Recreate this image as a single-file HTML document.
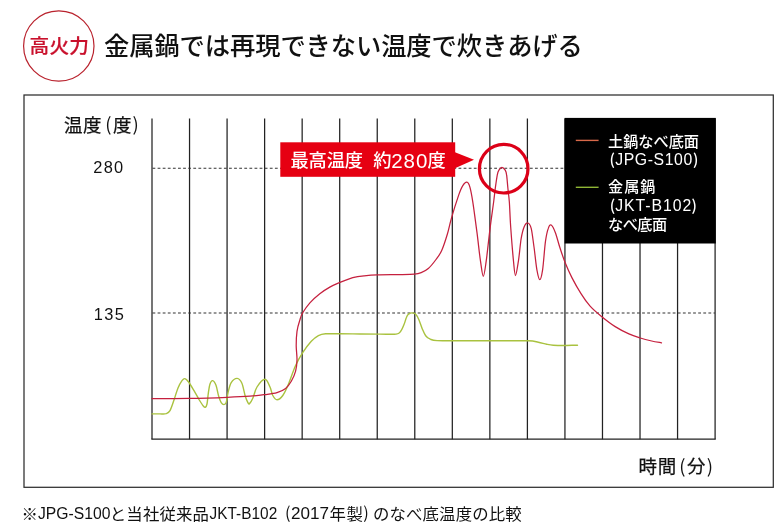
<!DOCTYPE html>
<html lang="ja">
<head>
<meta charset="utf-8">
<title>高火力</title>
<style>
html,body{margin:0;padding:0;background:#fff;}
body{width:780px;height:526px;overflow:hidden;position:relative;font-family:"Liberation Sans","Noto Sans CJK JP",sans-serif;}
svg{position:absolute;left:0;top:0;display:block;}
text{font-family:"Liberation Sans","Noto Sans CJK JP",sans-serif;}
.jp{font-family:"Noto Sans CJK JP","Liberation Sans",sans-serif;}
</style>
</head>
<body>
<svg width="780" height="526" viewBox="0 0 780 526">
<rect x="0" y="0" width="780" height="526" fill="#fff"/>
<!-- badge -->
<circle cx="58.8" cy="46" r="35.2" fill="#fff" stroke="#b9222d" stroke-width="1.2"/>
<text class="jp" x="29.6" y="53.1" font-size="19.7" font-weight="500" fill="#c9102c" stroke="#c9102c" stroke-width="0.2" textLength="59.4" lengthAdjust="spacing">高火力</text>
<!-- title -->
<text class="jp" x="104" y="54.9" font-size="25.3" font-weight="500" fill="#111" letter-spacing="-0.1">金属鍋では再現できない温度で炊きあげる</text>
<!-- frame -->
<rect x="24" y="95" width="749.3" height="392.3" fill="#fff" stroke="#2e2e2e" stroke-width="1.25"/>
<!-- grid -->
<g stroke="#222" stroke-width="1.25" fill="none">
<line x1="152.00" y1="118.4" x2="152.00" y2="439.2"/><line x1="189.54" y1="118.4" x2="189.54" y2="439.2"/><line x1="227.08" y1="118.4" x2="227.08" y2="439.2"/><line x1="264.62" y1="118.4" x2="264.62" y2="439.2"/><line x1="302.16" y1="118.4" x2="302.16" y2="439.2"/><line x1="339.70" y1="118.4" x2="339.70" y2="439.2"/><line x1="377.24" y1="118.4" x2="377.24" y2="439.2"/><line x1="414.78" y1="118.4" x2="414.78" y2="439.2"/><line x1="452.32" y1="118.4" x2="452.32" y2="439.2"/><line x1="489.86" y1="118.4" x2="489.86" y2="439.2"/><line x1="527.40" y1="118.4" x2="527.40" y2="439.2"/><line x1="564.94" y1="118.4" x2="564.94" y2="439.2"/><line x1="602.48" y1="118.4" x2="602.48" y2="439.2"/><line x1="640.02" y1="118.4" x2="640.02" y2="439.2"/><line x1="677.56" y1="118.4" x2="677.56" y2="439.2"/><line x1="715.10" y1="118.4" x2="715.10" y2="439.2"/>
<line x1="151.4" y1="439.2" x2="715.7" y2="439.2"/>
</g>
<g stroke="#333" stroke-width="1.15" stroke-dasharray="2.8 2.3" fill="none">
<line x1="152.5" y1="168.2" x2="565" y2="168.2"/>
<line x1="152.5" y1="313" x2="715" y2="313"/>
</g>
<!-- curves -->
<path d="M152.0 413.9C153.3 413.9 157.7 413.9 160.0 413.9C162.3 413.9 164.3 414.2 166.0 413.7C167.7 413.1 168.7 412.9 170.0 410.6C171.3 408.3 172.7 403.8 174.0 400.0C175.3 396.2 176.7 391.2 178.0 388.0C179.3 384.8 180.8 382.2 182.0 380.6C183.2 379.0 183.8 378.4 184.9 378.6C186.0 378.8 187.1 380.0 188.6 382.0C190.1 384.0 192.2 387.6 194.0 390.6C195.8 393.6 197.8 397.4 199.3 400.0C200.9 402.6 202.3 404.8 203.3 406.0C204.3 407.2 204.7 407.6 205.3 407.3C205.9 407.0 206.5 406.3 207.0 404.0C207.5 401.7 207.8 396.6 208.3 393.3C208.8 390.0 209.3 386.1 210.0 384.0C210.7 381.9 211.6 380.4 212.6 380.6C213.6 380.8 215.0 382.7 216.0 385.3C217.0 387.9 217.7 393.1 218.6 396.0C219.5 398.9 220.3 401.2 221.2 402.6C222.1 404.0 223.1 404.6 223.9 404.6C224.7 404.6 225.5 404.5 226.2 402.6C226.9 400.7 227.1 396.6 227.9 393.3C228.7 390.0 229.6 385.1 231.2 382.6C232.8 380.1 235.4 378.3 237.2 378.4C239.0 378.5 240.6 380.4 241.9 383.3C243.2 386.2 244.2 392.8 245.2 396.0C246.2 399.2 247.2 401.3 247.9 402.6C248.6 403.9 248.7 404.3 249.5 403.6C250.3 402.9 251.6 401.1 252.8 398.3C254.1 395.5 255.0 390.2 257.0 387.0C259.0 383.8 262.8 379.2 265.0 379.2C267.2 379.2 268.7 384.3 270.0 387.0C271.3 389.7 271.6 393.4 272.8 395.5C274.0 397.6 275.3 399.8 277.0 399.8C278.7 399.8 280.9 398.1 282.8 395.5C284.7 392.9 286.4 389.0 288.5 384.0C290.6 379.0 293.2 370.7 295.6 365.5C298.0 360.3 300.1 356.7 302.7 352.7C305.3 348.7 308.7 344.1 311.3 341.3C313.9 338.5 316.0 336.9 318.4 335.6C320.8 334.4 321.9 334.1 325.5 333.8C329.1 333.5 334.1 333.8 339.8 333.8C345.6 333.8 353.3 333.9 360.0 334.0C366.7 334.1 374.0 334.1 380.0 334.1C386.0 334.1 392.7 334.6 396.1 334.1C399.6 333.6 399.4 332.8 400.7 331.2C402.0 329.6 403.2 326.6 404.1 324.3C405.1 322.0 405.6 319.2 406.4 317.5C407.1 315.8 407.7 314.9 408.6 314.1C409.6 313.3 411.0 312.9 412.1 312.9C413.2 312.9 414.4 313.0 415.5 314.1C416.6 315.2 417.8 317.3 418.9 319.8C420.0 322.3 421.2 326.2 422.3 328.9C423.4 331.5 424.4 334.0 425.7 335.7C427.0 337.4 428.4 338.4 430.3 339.2C432.2 340.0 432.2 340.3 437.1 340.6C442.1 340.9 449.5 340.8 460.0 340.8C470.5 340.8 488.6 340.8 500.0 340.8C511.4 340.8 521.9 340.6 528.3 340.8C534.7 341.0 535.2 341.6 538.3 342.2C541.4 342.8 544.2 343.7 546.7 344.2C549.2 344.7 550.5 345.0 553.3 345.2C556.1 345.4 559.3 345.5 563.3 345.5C567.3 345.5 575.1 345.2 577.5 345.2" fill="none" stroke="#a9c23f" stroke-width="1.4" stroke-linecap="round" stroke-linejoin="round"/>
<path d="M152.0 398.6C158.2 398.6 176.8 398.6 189.3 398.4C201.8 398.2 217.1 397.7 227.2 397.3C237.3 396.9 243.7 396.6 250.0 396.2C256.3 395.8 260.5 395.2 265.0 394.6C269.5 394.0 273.6 393.6 277.0 392.6C280.4 391.6 283.2 390.3 285.6 388.4C288.0 386.5 289.6 384.1 291.3 381.2C293.0 378.3 294.7 374.8 295.6 371.2C296.6 367.6 296.9 364.1 297.0 359.8C297.1 355.5 296.2 350.4 296.2 345.6C296.2 340.9 296.4 335.6 297.0 331.3C297.6 327.0 298.9 323.0 299.9 319.9C300.8 316.8 301.0 315.6 302.7 312.8C304.4 310.0 307.0 306.0 309.9 302.8C312.8 299.6 316.5 296.3 319.8 293.7C323.1 291.1 326.5 289.0 329.8 287.1C333.1 285.2 335.8 284.2 339.6 282.6C343.4 281.0 348.7 278.7 352.8 277.6C356.9 276.5 360.1 276.2 364.2 275.8C368.3 275.4 371.5 275.1 377.2 274.9C382.9 274.7 392.2 274.7 398.4 274.6C404.6 274.5 410.5 274.5 414.3 274.2C418.1 273.9 418.9 273.6 421.2 272.6C423.5 271.7 425.8 270.7 428.3 268.5C430.8 266.3 433.8 262.5 436.0 259.5C438.2 256.5 439.8 254.8 441.7 250.5C443.6 246.2 445.8 239.3 447.4 234.0C449.0 228.7 449.5 224.8 451.4 218.4C453.2 212.0 456.6 201.1 458.5 195.6C460.4 190.1 461.4 187.8 462.8 185.6C464.2 183.4 465.8 181.9 467.0 182.2C468.2 182.4 468.9 183.9 469.9 187.1C470.8 190.3 471.5 193.7 472.7 201.3C473.9 208.9 475.7 222.7 477.0 232.7C478.3 242.7 479.4 253.9 480.5 261.2C481.6 268.5 482.4 276.3 483.3 276.3C484.2 276.3 485.1 268.9 486.2 261.2C487.3 253.4 488.6 239.8 489.9 229.8C491.1 219.9 492.8 208.4 493.7 201.5C494.6 194.6 494.7 192.6 495.3 188.2C495.9 183.8 496.7 177.9 497.3 174.9C497.9 171.9 498.1 171.5 498.9 170.2C499.7 168.9 500.8 167.3 501.9 167.3C502.9 167.3 504.4 168.9 505.2 170.2C506.0 171.5 506.2 171.9 506.6 174.9C507.1 177.9 507.4 183.8 507.9 188.2C508.3 192.6 508.8 195.0 509.3 201.5C509.8 208.0 510.0 217.1 510.7 227.0C511.4 236.9 512.7 253.1 513.5 261.2C514.3 269.3 514.7 275.5 515.5 275.5C516.3 275.5 517.4 267.4 518.4 261.2C519.4 255.0 520.2 244.1 521.2 238.4C522.2 232.7 523.0 229.6 524.1 227.0C525.2 224.4 526.6 222.8 527.8 223.0C529.0 223.2 530.2 224.4 531.2 228.4C532.2 232.4 533.0 240.1 534.0 247.0C535.0 253.9 535.9 264.4 536.9 269.8C537.9 275.2 538.8 279.7 539.8 279.7C540.8 279.7 541.6 276.2 542.6 269.8C543.6 263.4 544.5 248.1 545.5 241.2C546.5 234.3 547.3 231.1 548.3 228.4C549.2 225.7 550.0 224.3 551.2 225.0C552.4 225.7 554.0 229.0 555.4 232.7C556.8 236.4 558.1 242.0 559.7 247.0C561.3 252.0 563.2 257.7 565.2 262.8C567.2 267.9 569.3 272.5 571.9 277.6C574.5 282.7 578.0 288.9 581.0 293.6C584.0 298.4 586.7 302.3 590.1 306.1C593.5 309.9 597.3 313.0 601.5 316.4C605.7 319.8 610.6 323.7 615.2 326.6C619.8 329.5 624.7 332.0 628.9 333.9C633.1 335.8 636.5 336.8 640.3 338.0C644.1 339.2 648.2 340.2 651.7 341.0C655.2 341.8 659.9 342.5 661.5 342.8" fill="none" stroke="#c5203e" stroke-width="1.25" stroke-linecap="round" stroke-linejoin="round"/>
<!-- legend -->
<rect x="564.6" y="117.9" width="151.2" height="125.6" fill="#000"/>
<line x1="575.8" y1="140.4" x2="598.6" y2="140.4" stroke="#d8694a" stroke-width="1.4"/>
<line x1="575.8" y1="187.3" x2="598.6" y2="187.3" stroke="#8fb535" stroke-width="1.4"/>
<g fill="#fff" font-size="15.2" font-weight="500">
<text class="jp" x="608" y="146.8" textLength="91" lengthAdjust="spacing">土鍋なべ底面</text>
<text class="jp" x="609.4" y="164.6">(</text>
<text x="615.2" y="165.2" font-size="15.8" textLength="77" lengthAdjust="spacing">JPG-S100</text>
<text class="jp" x="693" y="164.6">)</text>
<text class="jp" x="608" y="192.4" textLength="47.5" lengthAdjust="spacing">金属鍋</text>
<text class="jp" x="609.8" y="210.6">(</text>
<text x="615.2" y="211.2" font-size="15.8" textLength="76" lengthAdjust="spacing">JKT-B102</text>
<text class="jp" x="691.6" y="210.6">)</text>
<text class="jp" x="608" y="229.6" textLength="59.2" lengthAdjust="spacing">なべ底面</text>
</g>
<!-- callout -->
<rect x="280.3" y="142.3" width="174.9" height="34.5" fill="#e60012"/>
<polygon points="455,152.2 474,159.7 455,168.2" fill="#e60012"/>
<g fill="#fff" font-weight="500">
<text class="jp" x="290.5" y="166.6" font-size="18.3" textLength="72.6" lengthAdjust="spacing">最高温度</text>
<text class="jp" x="373.2" y="166.6" font-size="18.3">約</text>
<text x="391.3" y="167.6" font-size="20.5" font-weight="400" textLength="36" lengthAdjust="spacing">280</text>
<text class="jp" x="427.6" y="166.6" font-size="18.3">度</text>
</g>
<circle cx="503.7" cy="168.7" r="24.3" fill="none" stroke="#dc0018" stroke-width="3.2"/>
<!-- axis labels -->
<g fill="#111" font-size="18.5" stroke="#111" stroke-width="0.25">
<text class="jp" x="64" y="131.6" textLength="37.6" lengthAdjust="spacing">温度</text>
<text class="jp" stroke="none" x="105.2" y="131.2">(</text>
<text class="jp" x="113.1" y="131.6">度</text>
<text class="jp" stroke="none" x="132.6" y="131.2">)</text>
<text class="jp" x="638.6" y="473.2" textLength="37.6" lengthAdjust="spacing">時間</text>
<text class="jp" stroke="none" x="679.2" y="472.8">(</text>
<text class="jp" x="687" y="473.2">分</text>
<text class="jp" stroke="none" x="706.8" y="472.8">)</text>
</g>
<text x="93.2" y="173.3" font-size="16.4" fill="#111" textLength="30" lengthAdjust="spacing">280</text>
<text x="93.8" y="320.4" font-size="16.4" fill="#111" textLength="30" lengthAdjust="spacing">135</text>
<!-- footnote -->
<g fill="#111" font-size="16.4">
<text class="jp" x="21.4" y="519.6">※</text>
<text x="38" y="518.6" font-size="16.3" textLength="72.4" lengthAdjust="spacingAndGlyphs">JPG-S100</text>
<text class="jp" x="109.8" y="519.6" textLength="99.2" lengthAdjust="spacing">と当社従来品</text>
<text x="209.6" y="518.6" font-size="16.3" textLength="67.6" lengthAdjust="spacingAndGlyphs">JKT-B102</text>
<text class="jp" x="285" y="519.2">(</text>
<text x="291" y="518.6" font-size="16.3" textLength="38" lengthAdjust="spacingAndGlyphs">2017</text>
<text class="jp" x="329.4" y="519.6" textLength="33.6" lengthAdjust="spacing">年製</text>
<text class="jp" x="363.2" y="519.2">)</text>
<text class="jp" x="373" y="519.6" textLength="148.6" lengthAdjust="spacing">のなべ底温度の比較</text>
</g>
</svg>
</body>
</html>
